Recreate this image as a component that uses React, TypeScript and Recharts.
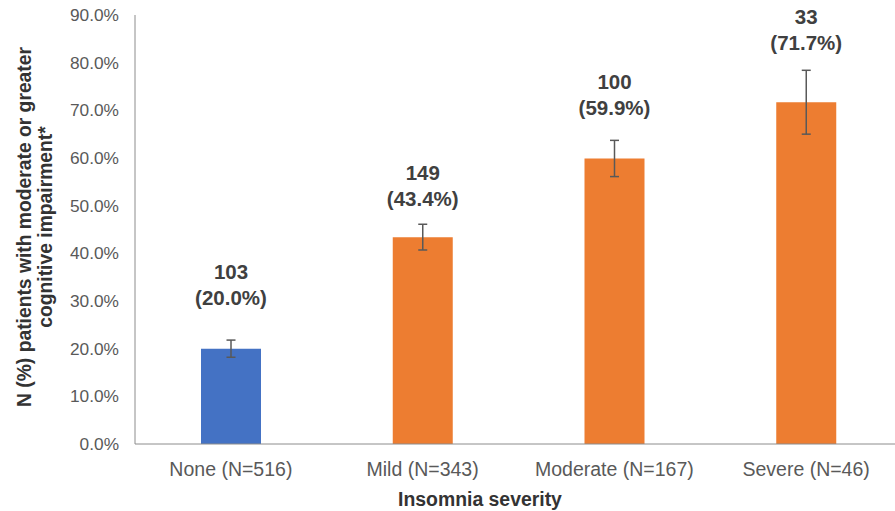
import React from 'react';
import { BarChart, Bar, XAxis, YAxis, ErrorBar, LabelList, Cell, Label } from 'recharts';

const categories = ['None (N=516)', 'Mild (N=343)', 'Moderate (N=167)', 'Severe (N=46)'];
const counts = [103, 149, 100, 33];
const percents = [20.0, 43.4, 59.9, 71.7];
const stdErrors = [1.8, 2.7, 3.8, 6.7];
const yTicks = [0, 10, 20, 30, 40, 50, 60, 70, 80, 90];
const barColors = ['#4472C4', '#ED7D31', '#ED7D31', '#ED7D31'];
// manual vertical gap (px) between bar top and the baseline of the percent line of each annotation
const labelLift = [44, 31, 43, 52];

const data = categories.map((c, i) => ({ category: c, pct: percents[i], n: counts[i], err: stdErrors[i] }));

const FONT = '"Liberation Sans", Arial, sans-serif';

const renderValueLabel = (props: any) => {
  const { x, y, width, index } = props;
  const cx = Number(x) + Number(width) / 2;
  const base = Number(y) - labelLift[index];
  return (
    <text textAnchor="middle" fill="#404040" fontWeight="bold" fontSize={20.5} fontFamily={FONT}>
      <tspan x={cx} y={base - 26}>{counts[index]}</tspan>
      <tspan x={cx} y={base}>({percents[index].toFixed(1)}%)</tspan>
    </text>
  );
};

const renderYTitle = () => (
  <text transform="translate(24,227) rotate(-90)" textAnchor="middle" fill="#333333" fontWeight="bold" fontSize={19.3} fontFamily={FONT}>
    <tspan x={0} y={7}>N (%) patients with moderate or greater</tspan>
    <tspan x={0} y={28}>cognitive impairment*</tspan>
  </text>
);

const renderXTitle = () => (
  <text x={480} y={506} textAnchor="middle" fill="#333333" fontWeight="bold" fontSize={19.4} fontFamily={FONT}>
    Insomnia severity
  </text>
);

export default function App() {
  return (
    <div style={{ position: 'absolute', left: 0, top: 0, width: 895, height: 511, overflow: 'hidden', background: '#fff' }}>
      <BarChart width={902} height={511} data={data} margin={{ top: 15, right: 0, bottom: 0, left: 0 }}>
        <XAxis
          dataKey="category"
          height={67}
          tickLine={false}
          axisLine={{ stroke: '#8c8c8c' }}
          tickMargin={12}
          tick={{ fill: '#595959', fontSize: 19.5, fontFamily: FONT }}
          interval={0}
        >
          <Label content={renderXTitle} />
        </XAxis>
        <YAxis
          width={135}
          domain={[0, 90]}
          ticks={yTicks}
          tickFormatter={(v: number) => v.toFixed(1) + '%'}
          tickLine={false}
          axisLine={{ stroke: '#8c8c8c' }}
          tickMargin={10}
          tick={{ fill: '#595959', fontSize: 17.3, fontFamily: FONT }}
          allowDataOverflow
        >
          <Label content={renderYTitle} />
        </YAxis>
        <Bar dataKey="pct" barSize={60} isAnimationActive={false}>
          {data.map((d, i) => (
            <Cell key={d.category} fill={barColors[i]} />
          ))}
          <ErrorBar dataKey="err" width={4.5} stroke="#595959" strokeWidth={1.5} direction="y" />
          <LabelList dataKey="pct" content={renderValueLabel} />
        </Bar>
      </BarChart>
    </div>
  );
}
